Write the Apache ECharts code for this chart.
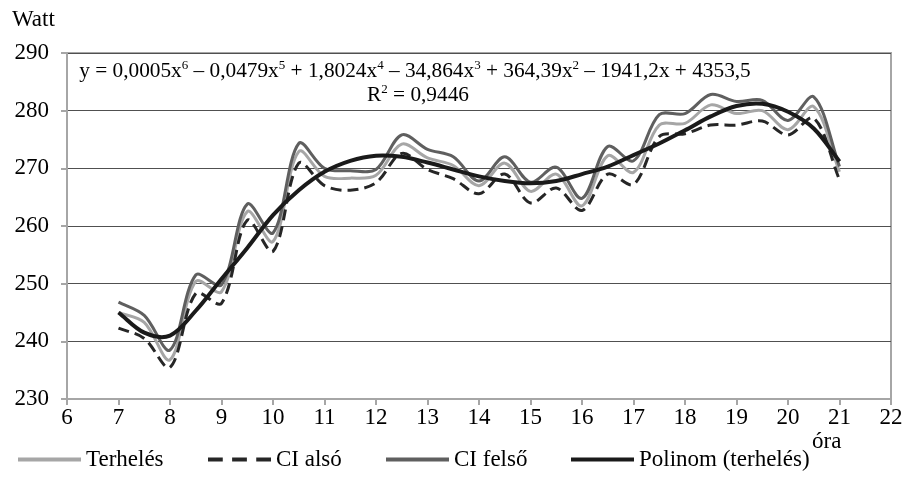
<!DOCTYPE html>
<html>
<head>
<meta charset="utf-8">
<script src="https://cdn.jsdelivr.net/npm/echarts@6/dist/echarts.min.js"></script>
<style>html,body{margin:0;padding:0;background:#fff}#c{width:911px;height:477px}</style>
</head>
<body>
<div id="c"></div>
<script>
const hours = [7,7.5,8,8.5,9,9.5,10,10.5,11,11.5,12,12.5,13,13.5,14,14.5,15,15.5,16,16.5,17,17.5,18,18.5,19,19.5,20,20.5,21];
const terheles = [245,243.3,236.8,250.4,248.6,262.5,257.3,272.9,268.6,268.3,268.8,274.2,271.8,270.5,267,270.9,266,269,263.5,272.2,269.3,277.5,277.8,281,279.5,280,276.7,280.7,269.4];
const ciAlso   = [242.3,240.5,235.5,248.3,246.6,261,255.6,270.9,267,266.2,267.5,272.6,269.8,268.2,265.6,269,264,266.6,262.7,269,267.2,275.5,276,277.5,277.5,278.2,275.8,278.7,268];
const ciFelso  = [246.8,244.5,238.5,251.5,249.8,263.8,258.8,274.3,270,269.6,269.8,275.8,273.3,272,267.8,272,267.6,270.2,264.8,273.8,271.3,279.3,279.5,282.8,281.6,281.8,278.3,282.4,270.3];
const polinom  = [245,241.5,241,245.3,250.8,256.2,261.9,266.2,269.4,271.3,272.2,272,271,269.8,268.6,267.8,267.4,267.8,269,270.3,272.3,274.3,276.6,279,280.8,281.2,279.8,276.9,271.2];
const seriesNames = ['Terhelés','CI alsó','CI felső','Polinom (terhelés)'];
const xMin = 6, xMax = 22, xStep = 1;
const yMin = 230, yMax = 290, yStep = 10;
const yName = 'Watt', xName = 'óra';

const FONT = '"Liberation Serif","Times New Roman",serif';
const pair = arr => hours.map((h,i)=>[h, arr[i]]);

// Smoothed (Catmull-Rom style, length weighted) path through the library-mapped points
function smoothPath(pts){
  const K = 1/3, n = pts.length;
  const dist = (a,b)=>Math.hypot(a[0]-b[0], a[1]-b[1]);
  const cin = [], cout = [];
  for (let i=0;i<n;i++){
    const p = pts[i], pr = pts[Math.max(i-1,0)], nx = pts[Math.min(i+1,n-1)];
    const vx = nx[0]-pr[0], vy = nx[1]-pr[1];
    const d0 = dist(p,pr), d1 = dist(p,nx), s = (d0+d1)||1;
    cin[i]  = [p[0]-vx*K*d0/s, p[1]-vy*K*d0/s];
    cout[i] = [p[0]+vx*K*d1/s, p[1]+vy*K*d1/s];
  }
  let d = 'M'+pts[0][0]+','+pts[0][1];
  for (let i=0;i<n-1;i++){
    d += ' C'+cout[i][0]+','+cout[i][1]+' '+cin[i+1][0]+','+cin[i+1][1]+' '+pts[i+1][0]+','+pts[i+1][1];
  }
  return d;
}
function curveSeries(name, arr, color, width, dash, z){
  return {
    name, type:'custom', coordinateSystem:'cartesian2d', data:pair(arr), z,
    encode:{x:0,y:1}, itemStyle:{color},
    renderItem:(params, api)=>{
      if (params.dataIndex !== 0) return null;
      const pts = hours.map((h,i)=>api.coord([h, arr[i]]));
      return {type:'path', shape:{pathData:smoothPath(pts)},
        style:{fill:'none', stroke:color, lineWidth:width, lineDash:dash||null, lineCap:'butt', lineJoin:'round'}};
    }
  };
}

const solidIcon = 'path://M0,0H64V4H0Z';
const dashIcon = 'path://M0,0H15V4H0Z M24.5,0H39.5V4H24.5Z M49,0H64V4H49Z';
const legendBase = {top:443,itemWidth:63,itemHeight:5,itemGap:0,
  textStyle:{color:'#000',fontFamily:FONT,fontSize:23}};

const chart = echarts.init(document.getElementById('c'));
chart.setOption({
  animation:false,
  backgroundColor:'#fff',
  grid:{left:67,right:20,top:53,bottom:78,show:true,borderColor:'#a6a6a6',borderWidth:2,backgroundColor:'transparent'},
  xAxis:{type:'value',min:xMin,max:xMax,interval:xStep,
    axisLine:{show:true,lineStyle:{color:'#a6a6a6',width:2}},
    axisTick:{show:true,length:6,lineStyle:{color:'#a6a6a6',width:2}},
    axisLabel:{color:'#000',fontFamily:FONT,fontSize:23,margin:7},
    splitLine:{show:false}},
  yAxis:{type:'value',min:yMin,max:yMax,interval:yStep,
    axisLine:{show:true,lineStyle:{color:'#a6a6a6',width:2}},
    axisTick:{show:true,length:6,lineStyle:{color:'#a6a6a6',width:2}},
    axisLabel:{color:'#000',fontFamily:FONT,fontSize:23,margin:18},
    splitLine:{show:true,lineStyle:{color:'#505050',width:1}}},
  legend:[
    Object.assign({left:13,data:[{name:seriesNames[0],icon:solidIcon}]},legendBase),
    Object.assign({left:203,data:[{name:seriesNames[1],icon:dashIcon}]},legendBase),
    Object.assign({left:381,data:[{name:seriesNames[2],icon:solidIcon}]},legendBase),
    Object.assign({left:566,data:[{name:seriesNames[3],icon:solidIcon}]},legendBase)
  ],
  series:[
    curveSeries(seriesNames[0], terheles, '#a6a6a6', 3, null, 2),
    curveSeries(seriesNames[1], ciAlso, '#262626', 3, [11,6], 3),
    curveSeries(seriesNames[2], ciFelso, '#5f5f5f', 3, null, 4),
    curveSeries(seriesNames[3], polinom, '#1a1a1a', 4, null, 5)
  ],
  graphic:[
    {type:'text',left:12,top:8,style:{text:yName,font:'23px '+FONT,fill:'#000'}},
    {type:'text',left:812,top:430,style:{text:xName,font:'23px '+FONT,fill:'#000'}},
    {type:'text',x:415,y:71,style:{
      text:'{t|y = 0,0005x}{s|6}{t| – 0,0479x}{s|5}{t| + 1,8024x}{s|4}{t| – 34,864x}{s|3}{t| + 364,39x}{s|2}{t| – 1941,2x + 4353,5}',
      align:'center',verticalAlign:'middle',
      rich:{t:{fontFamily:FONT,fontSize:21.3,fill:'#000',lineHeight:24},s:{fontFamily:FONT,fontSize:13,fill:'#000',verticalAlign:'top',lineHeight:24}}}},
    {type:'text',x:418,y:95,style:{
      text:'{t|R}{s|2}{t| = 0,9446}',align:'center',verticalAlign:'middle',
      rich:{t:{fontFamily:FONT,fontSize:21.3,fill:'#000',lineHeight:24},s:{fontFamily:FONT,fontSize:13,fill:'#000',verticalAlign:'top',lineHeight:24}}}}
  ]
});
</script>
</body>
</html>
